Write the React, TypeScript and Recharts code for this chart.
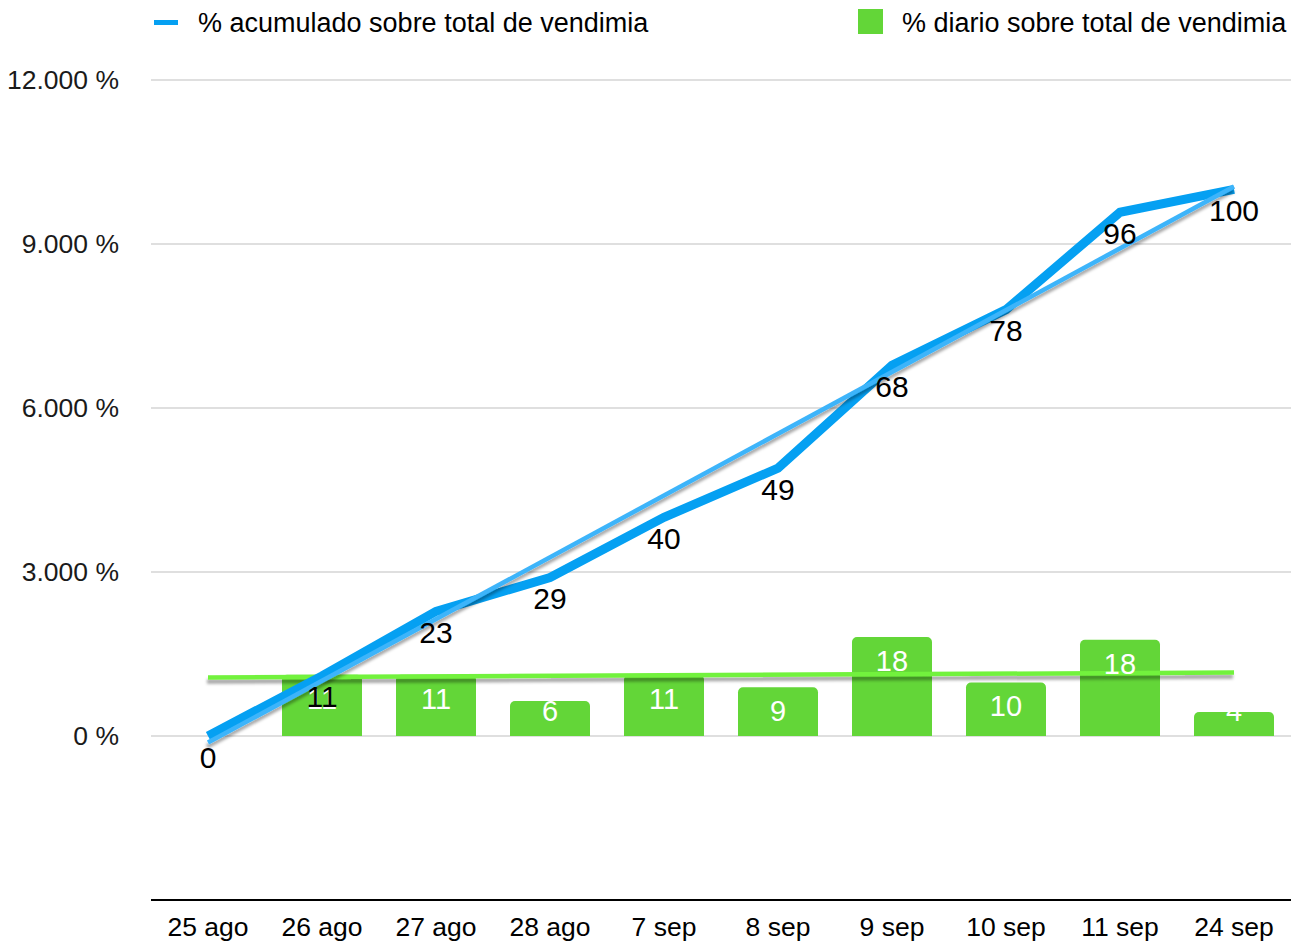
import React from 'react';
import { ComposedChart, Bar, Line, XAxis, YAxis, CartesianGrid, ReferenceLine, LabelList, Legend } from 'recharts';

const days = ['25 ago', '26 ago', '27 ago', '28 ago', '7 sep', '8 sep', '9 sep', '10 sep', '11 sep', '24 sep'];
// % acumulado (line) and % diario (bars), label values shown rounded
const acumulado = [0, 11, 22.8, 29, 40, 49, 67.8, 78, 95.8, 100];
const diario = [0, 11.2, 11.2, 6.4, 11.2, 8.9, 18.1, 9.8, 17.6, 4.4];
const yTicks = [0, 30, 60, 90, 120];
// trend lines: value at first day, value at last day
const trendAcumulado = [-1.2, 100.5];
const trendDiario = [10.7, 11.6];

const serieAcumulado = '% acumulado sobre total de vendimia';
const serieDiario = '% diario sobre total de vendimia';

const data = days.map((day, i) => ({ day, acumulado: acumulado[i], diario: diario[i] }));

const FONT = '"Liberation Sans", Arial, Helvetica, sans-serif';
const BLUE = '#05a0f2';
const BLUE_TREND = '#3cb4fa';
const GREEN = '#63d638';
const GREEN_TREND = '#72f23c';

const formatTick = (v: number) => {
  const n = Math.round(v * 100);
  return n.toString().replace(/\B(?=(\d{3})+(?!\d))/g, '.') + ' %';
};

const LineLabel = (props: any) => {
  const { x, y, value } = props;
  return (
    <text x={x} y={y + 21} textAnchor="middle" dominantBaseline="central" fontSize={30} fill="#000" fontFamily={FONT}>
      {Math.round(value)}
    </text>
  );
};

const BarLabel = (props: any) => {
  const { x, y, width, height, value } = props;
  if (!value) return null;
  // label sits inside the bar, pushed up for short bars
  const cy = Math.min(y + 24, y + height - 25);
  return (
    <text x={x + width / 2} y={cy} textAnchor="middle" dominantBaseline="central" fontSize={29} fill="#fff" fontFamily={FONT}>
      {Math.round(value)}
    </text>
  );
};

const trendShape = (color: string, w: number) => (p: any) => (
  <line x1={p.x1} y1={p.y1} x2={p.x2} y2={p.y2} stroke={color} strokeWidth={w} filter="url(#trendShadow)" />
);

const LegendContent = () => (
  <div style={{ position: 'relative', width: 1301, height: 46, fontFamily: FONT, fontSize: 27, color: '#000' }}>
    <span style={{ position: 'absolute', left: 154, top: 20, width: 24, height: 5, background: BLUE }} />
    <span style={{ position: 'absolute', left: 198, top: 7, lineHeight: '32px', whiteSpace: 'nowrap' }}>{serieAcumulado}</span>
    <span style={{ position: 'absolute', left: 858, top: 9, width: 25, height: 25, background: GREEN }} />
    <span style={{ position: 'absolute', left: 902, top: 7, lineHeight: '32px', whiteSpace: 'nowrap' }}>{serieDiario}</span>
  </div>
);

export default function App() {
  return (
    <div style={{ position: 'absolute', left: 0, top: 0, fontFamily: FONT }}>
      <ComposedChart width={1301} height={944} data={data} margin={{ top: 80, right: 10, bottom: 0, left: 0 }}>
        <defs>
          <filter id="trendShadow" filterUnits="userSpaceOnUse" x={0} y={0} width={1301} height={944}>
            <feDropShadow dx={-1} dy={4} stdDeviation={1.5} floodColor="#000" floodOpacity={0.35} />
          </filter>
        </defs>
        <CartesianGrid vertical={false} stroke="#bfbfbf" strokeWidth={1} />
        <XAxis
          dataKey="day"
          axisLine={{ stroke: '#000', strokeWidth: 2 }}
          tickLine={false}
          tickSize={0}
          tickMargin={17}
          height={44}
          interval={0}
          tick={{ fontSize: 26.5, fill: '#000', fontFamily: FONT }}
        />
        <YAxis
          type="number"
          domain={[-30, 120]}
          ticks={yTicks}
          tickFormatter={formatTick}
          axisLine={false}
          tickLine={false}
          tickSize={0}
          tickMargin={32}
          width={151}
          tick={{ fontSize: 26.5, fill: '#1a1a1a', fontFamily: FONT }}
        />
        <Bar dataKey="diario" fill={GREEN} barSize={80} radius={[5, 5, 0, 0]} isAnimationActive={false}>
          <LabelList dataKey="diario" content={BarLabel} />
        </Bar>
        <ReferenceLine
          segment={[{ x: days[0], y: trendDiario[0] }, { x: days[days.length - 1], y: trendDiario[1] }]}
          shape={trendShape(GREEN_TREND, 4.5)}
          zIndex={350}
        />
        <Line
          dataKey="acumulado"
          type="linear"
          stroke={BLUE}
          strokeWidth={9}
          dot={false}
          activeDot={false}
          isAnimationActive={false}
        >
          <LabelList dataKey="acumulado" content={LineLabel} />
        </Line>
        <ReferenceLine
          segment={[{ x: days[0], y: trendAcumulado[0] }, { x: days[days.length - 1], y: trendAcumulado[1] }]}
          shape={trendShape(BLUE_TREND, 4.5)}
          zIndex={450}
        />
        <Legend
          layout="horizontal"
          verticalAlign="middle"
          align="center"
          wrapperStyle={{ top: 0, left: 0, width: 1301, height: 46 }}
          content={LegendContent}
        />
      </ComposedChart>
    </div>
  );
}
